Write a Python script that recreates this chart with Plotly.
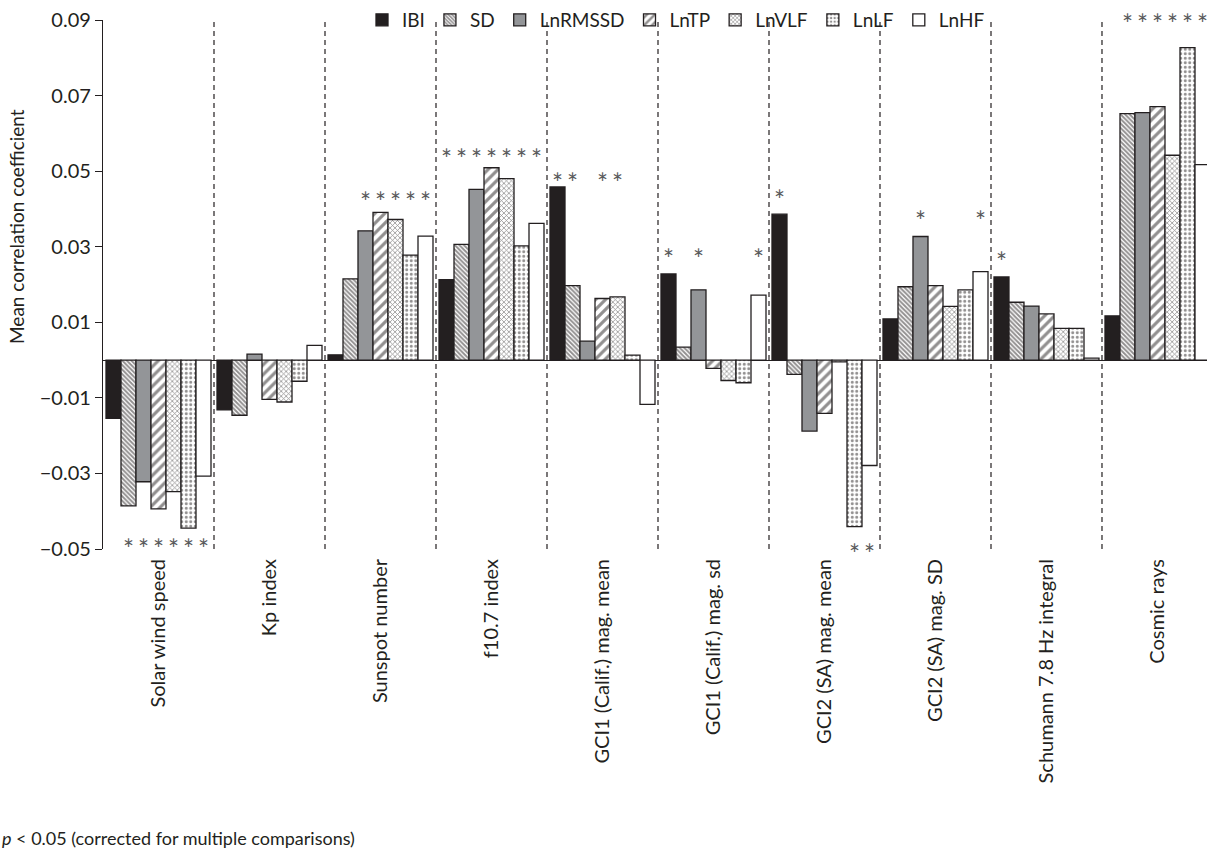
import plotly.graph_objects as go

# Geomagnetic / solar predictors (x-axis groups)
groups = [
    "Solar wind speed", "Kp index", "Sunspot number", "f10.7 index",
    "GCI1 (Calif.) mag. mean", "GCI1 (Calif.) mag. sd", "GCI2 (SA) mag. mean",
    "GCI2 (SA) mag. SD", "Schumann 7.8 Hz integral", "Cosmic rays",
]

# Mean correlation coefficients per HRV measure (one value per group)
ibi     = [-0.0154, -0.0132, 0.0014, 0.0213, 0.0458, 0.0228, 0.0386, 0.0109, 0.0220, 0.0117]
sd      = [-0.0386, -0.0146, 0.0215, 0.0306, 0.0197, 0.0034, -0.0038, 0.0194, 0.0153, 0.0652]
lnrmssd = [-0.0322, 0.0016, 0.0342, 0.0452, 0.0050, 0.0186, -0.0188, 0.0327, 0.0143, 0.0655]
lntp    = [-0.0394, -0.0104, 0.0391, 0.0509, 0.0163, -0.0022, -0.0141, 0.0197, 0.0122, 0.0671]
lnvlf   = [-0.0348, -0.0111, 0.0372, 0.0480, 0.0167, -0.0054, -0.0005, 0.0142, 0.0084, 0.0542]
lnlf    = [-0.0445, -0.0056, 0.0278, 0.0302, 0.0013, -0.0060, -0.0441, 0.0186, 0.0084, 0.0827]
lnhf    = [-0.0307, 0.0039, 0.0328, 0.0362, -0.0117, 0.0172, -0.0279, 0.0234, 0.0005, 0.0517]

# Significance flags (1 = p < 0.05 after correction)
ibi_sig     = [0, 0, 0, 1, 1, 1, 1, 0, 1, 0]
sd_sig      = [1, 0, 0, 1, 1, 0, 0, 0, 0, 1]
lnrmssd_sig = [1, 0, 1, 1, 0, 1, 0, 1, 0, 1]
lntp_sig    = [1, 0, 1, 1, 1, 0, 0, 0, 0, 1]
lnvlf_sig   = [1, 0, 1, 1, 1, 0, 0, 0, 0, 1]
lnlf_sig    = [1, 0, 1, 1, 0, 0, 1, 0, 0, 1]
lnhf_sig    = [1, 0, 1, 1, 0, 1, 1, 1, 0, 1]

series_names = ["IBI", "SD", "LnRMSSD", "LnTP", "LnVLF", "LnLF", "LnHF"]
y_ticks = [-0.05, -0.03, -0.01, 0.01, 0.03, 0.05, 0.07, 0.09]

# Heights of the asterisk rows in each group (above positive / below negative bars)
star_row_top = [None, None, 0.0442, 0.0556, 0.0492, 0.0291, 0.0447, 0.0392, 0.0283, 0.0913]
star_row_bottom = [-0.0476, None, None, None, None, None, -0.0490, None, None, None]

values = [ibi, sd, lnrmssd, lntp, lnvlf, lnlf, lnhf]
flags = [ibi_sig, sd_sig, lnrmssd_sig, lntp_sig, lnvlf_sig, lnlf_sig, lnhf_sig]

INK = "#231f20"
styles = [
    dict(color=INK, pattern=dict(shape="")),
    dict(color="white", pattern=dict(shape="\\", size=3.2, solidity=0.6, fgcolor=INK, bgcolor="white", fillmode="overlay")),
    dict(color="#939598", pattern=dict(shape="")),
    dict(color="white", pattern=dict(shape="/", size=7, solidity=0.45, fgcolor=INK, bgcolor="white", fillmode="overlay")),
    dict(color="white", pattern=dict(shape="x", size=3.5, solidity=0.4, fgcolor=INK, bgcolor="white", fillmode="overlay")),
    dict(color="white", pattern=dict(shape=".", size=4.5, solidity=0.35, fgcolor=INK, bgcolor="white", fillmode="overlay")),
    dict(color="white", pattern=dict(shape="")),
]

n_series = len(series_names)
group_gap = 0.054
bar_w = (1 - group_gap) / n_series
gx = list(range(len(groups)))
y_lo, y_hi = y_ticks[0], y_ticks[-1]

FONT = "Lato"
fig = go.Figure()

for j, (name, vals, st) in enumerate(zip(series_names, values, styles)):
    xs = [g + (j - (n_series - 1) / 2) * bar_w for g in gx]
    fig.add_trace(go.Bar(
        x=xs, y=vals, width=bar_w, name=name,
        marker=dict(color=st["color"], pattern=st["pattern"],
                    line=dict(color=INK, width=1.3)),
    ))

# Asterisks marking significant correlations (vertical position in paper
# units so the row above the axis top is still drawn)
star_notes = []
for j, (vals, fl) in enumerate(zip(values, flags)):
    for g in gx:
        if fl[g]:
            row = star_row_top[g] if vals[g] > 0 else star_row_bottom[g]
            star_notes.append(dict(
                xref="x", yref="paper",
                x=g + (j - (n_series - 1) / 2) * bar_w,
                y=(row - y_lo) / (y_hi - y_lo),
                text="*", showarrow=False, xanchor="center", yanchor="middle",
                yshift=-9, font=dict(family=FONT, size=26, color="#58595b"),
            ))

# Dashed separators between groups
shapes = [
    dict(type="line", xref="x", yref="y", x0=g + 0.5, x1=g + 0.5,
         y0=y_lo, y1=y_hi,
         line=dict(color=INK, width=1.2, dash="5px,4px"), layer="above")
    for g in gx[:-1]
]

W, H = 1207, 852
ml, mt, mb = 103, 20, 303
plot_w = W - ml
plot_h = H - mt - mb

fig.update_layout(
    width=W, height=H,
    margin=dict(l=ml, r=0, t=mt, b=mb, pad=0),
    paper_bgcolor="white", plot_bgcolor="white",
    barmode="overlay",
    font=dict(family=FONT, size=20, color=INK),
    shapes=shapes,
    showlegend=True,
    legend=dict(
        orientation="h", x=(362 - ml) / plot_w, xanchor="left",
        y=1.0, yanchor="middle", bgcolor="rgba(0,0,0,0)",
        font=dict(family=FONT, size=19, color=INK),
        itemwidth=30, traceorder="normal",
    ),
    xaxis=dict(
        range=[-0.5, 9.446], tickmode="array", tickvals=gx, ticktext=groups,
        tickangle=-90, ticks="", showgrid=False, zeroline=False, showline=False,
        ticklabelstandoff=5, tickfont=dict(family=FONT, size=20, color=INK),
    ),
    yaxis=dict(
        range=[y_lo, y_hi], tickmode="array", tickvals=y_ticks,
        tickformat=".2f", ticks="outside", ticklen=7, tickcolor=INK,
        showline=True, linecolor=INK, linewidth=1.2, showgrid=False,
        zeroline=True, zerolinecolor=INK, zerolinewidth=1.2,
        tickfont=dict(family=FONT, size=20, color=INK),
    ),
    annotations=star_notes + [
        dict(
            xref="paper", yref="paper", x=(17 - ml) / plot_w,
            y=(549 - 227) / plot_h, xanchor="center", yanchor="middle",
            textangle=-90, showarrow=False, text="Mean correlation coefficient",
            font=dict(family=FONT, size=19, color=INK),
        ),
        dict(
            xref="paper", yref="paper", x=-ml / plot_w, y=(549 - 838) / plot_h,
            xanchor="left", yanchor="middle", showarrow=False,
            text="<i>p</i> < 0.05 (corrected for multiple comparisons)",
            font=dict(family=FONT, size=18, color=INK),
        ),
    ],
)

fig.write_html("out.html")
